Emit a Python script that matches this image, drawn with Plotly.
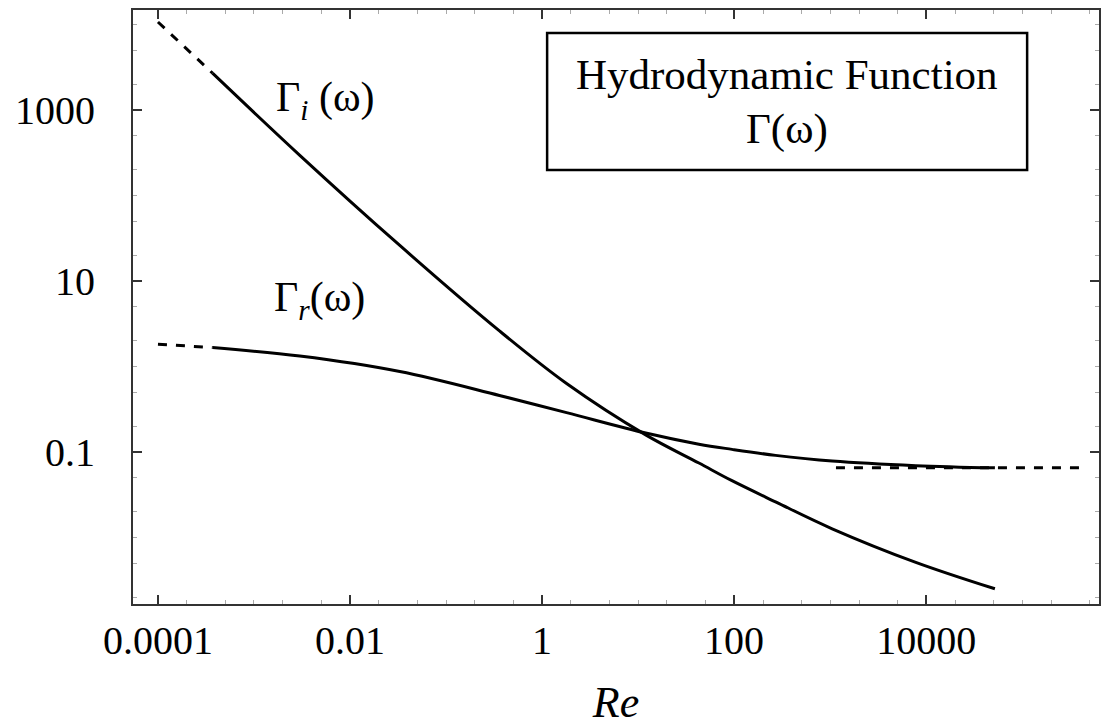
import plotly.graph_objects as go

# Reynolds number grid (solid curves)
re_vals = [3.7e-4, 3.0e-3, 0.033, 0.36, 1.8, 12, 43, 95, 270, 1050, 7800, 52000]
gamma_i = [2700, 295, 26, 2.6, 0.63, 0.158, 0.074, 0.046, 0.026, 0.0126, 0.0051, 0.0025]
gamma_r = [1.66, 1.32, 0.87, 0.457, 0.288, 0.166, 0.123, 0.107, 0.091, 0.078, 0.069, 0.065]

# dashed asymptotes
re_low = [1e-4, 3.7e-4]
gamma_i_low = [10700, 2700]
gamma_r_low = [1.82, 1.66]
re_high = [1150, 4.4e5]
gamma_r_high = [0.065, 0.065]

x_tickvals = [1e-4, 1e-2, 1, 100, 1e4]
x_ticktext = ["0.0001", "0.01", "1", "100", "10000"]
y_tickvals = [0.1, 10, 1000]
y_ticktext = ["0.1", "10", "1000"]

FONT = "Liberation Serif"

fig = go.Figure()
fig.add_trace(go.Scatter(x=re_vals, y=gamma_i, mode="lines",
                         line=dict(color="black", width=3, shape="spline", smoothing=1.0)))
fig.add_trace(go.Scatter(x=re_vals, y=gamma_r, mode="lines",
                         line=dict(color="black", width=3, shape="spline", smoothing=1.0)))
fig.add_trace(go.Scatter(x=re_low, y=gamma_i_low, mode="lines", line=dict(color="black", width=3, dash="dash")))
fig.add_trace(go.Scatter(x=re_low, y=gamma_r_low, mode="lines", line=dict(color="black", width=3, dash="dash")))
fig.add_trace(go.Scatter(x=re_high, y=gamma_r_high, mode="lines", line=dict(color="black", width=3, dash="dash")))

axis_common = dict(
    type="log", showgrid=False, zeroline=False, showline=True, linecolor="#333",
    linewidth=2, mirror="ticks", ticks="inside", ticklen=9, tickwidth=2, tickcolor="#333",
    tickfont=dict(family=FONT, size=40, color="black"),
    minor=dict(ticks="inside", ticklen=4, tickcolor="#aaa", tickwidth=1),
)

fig.update_xaxes(**axis_common, range=[-4.26, 5.80], tickvals=x_tickvals, ticktext=x_ticktext,
                 title=dict(text="<i>Re</i>", font=dict(family=FONT, size=44, color="black"), standoff=24))
fig.update_yaxes(**axis_common, range=[-2.78, 4.17], tickvals=y_tickvals, ticktext=y_ticktext,
                 ticklabelstandoff=28)

fig.add_annotation(x=-2.26, y=3.12, xref="x", yref="y", text="Γ<sub><i>i</i></sub> (ω)",
                   showarrow=False, font=dict(family=FONT, size=42, color="black"))
fig.add_annotation(x=-2.32, y=0.78, xref="x", yref="y", text="Γ<sub><i>r</i></sub>(ω)",
                   showarrow=False, font=dict(family=FONT, size=42, color="black"))

bx0, bx1, by0, by1 = 0.4287, 0.9256, 0.7306, 0.9613
fig.add_shape(type="rect", xref="paper", yref="paper", x0=bx0, x1=bx1, y0=by0, y1=by1,
              line=dict(color="black", width=2.5), fillcolor="white", layer="above")
fig.add_annotation(x=(bx0 + bx1) / 2, y=0.8906, xref="paper", yref="paper",
                   xanchor="center", yanchor="middle",
                   text="Hydrodynamic Function", showarrow=False,
                   font=dict(family=FONT, size=43, color="black"))
fig.add_annotation(x=(bx0 + bx1) / 2, y=0.80, xref="paper", yref="paper",
                   xanchor="center", yanchor="middle",
                   text="Γ(ω)", showarrow=False,
                   font=dict(family=FONT, size=43, color="black"))

fig.update_layout(
    width=1103, height=727, showlegend=False,
    margin=dict(l=133, r=2, t=10, b=123),
    plot_bgcolor="white", paper_bgcolor="white",
)

fig.write_html("out.html")
